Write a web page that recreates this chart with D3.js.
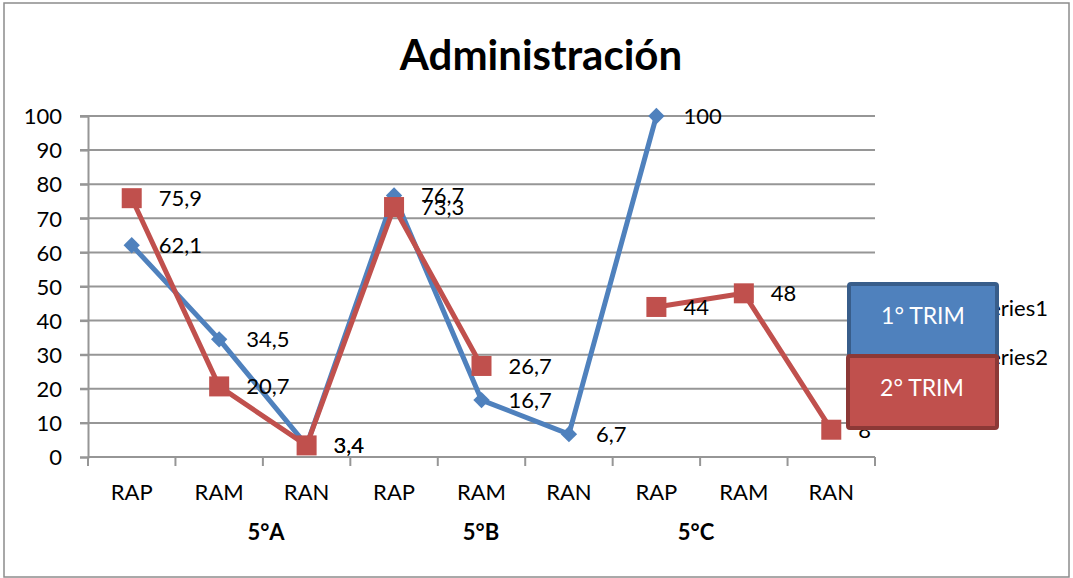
<!DOCTYPE html>
<html><head><meta charset="utf-8">
<script src="https://cdn.jsdelivr.net/npm/d3@7"></script>
<style>body{margin:0;background:#fff}svg{display:block;font-family:Lato,"Open Sans",sans-serif}</style>
</head><body><svg id="c" width="1073" height="578"></svg>
<script>
const categories = ["RAP","RAM","RAN","RAP","RAM","RAN","RAP","RAM","RAN"];
const groups = ["5°A","5°B","5°C"];
const series1 = [62.1,34.5,3.4,76.7,16.7,6.7,100,null,null];
const series2 = [75.9,20.7,3.4,73.3,26.7,null,44,48,8];
const labels1 = ["62,1","34,5","3,4","76,7","16,7","6,7","100",null,null];
const labels2 = ["75,9","20,7","3,4","73,3","26,7",null,"44","48","8"];
const yTicks = [0,10,20,30,40,50,60,70,80,90,100];
const title = "Administración";
const legendNames = ["Series1","Series2"];
const legendBoxes = ["1° TRIM","2° TRIM"];

const svg = d3.select("#c");
const blue="#4F81BD", red="#C0504D", grid="#969696";
svg.append("rect").attr("x",4).attr("y",3).attr("width",1065).attr("height",574).attr("fill","#fff").attr("stroke","#8c8c8c").attr("stroke-width",1.5);

const x0=88, x1=875;
const x = d3.scaleBand().domain(d3.range(categories.length)).range([x0,x1]);
const y = d3.scaleLinear().domain([0,100]).range([457,116]);
const cx = i => x(i)+x.bandwidth()/2;
const gx = d3.scalePoint().domain(groups).range([266,696]);

svg.append("text").attr("x",541).attr("y",70).attr("text-anchor","middle").attr("font-weight","bold").attr("font-size",42).text(title);

// gridlines
svg.append("g").selectAll("line").data(yTicks.filter(d=>d>0)).join("line")
 .attr("x1",80).attr("x2",x1).attr("y1",d=>y(d)).attr("y2",d=>y(d)).attr("stroke",grid).attr("stroke-width",2);
// y axis
const ya = svg.append("g").attr("transform",`translate(${x0},0)`).call(d3.axisLeft(y).tickValues(yTicks).tickSize(8).tickPadding(18));
ya.select(".domain").attr("stroke",grid).attr("stroke-width",2);
ya.selectAll(".tick line").attr("stroke",grid).attr("stroke-width",2);
ya.selectAll(".tick text").attr("font-size",22).attr("fill","#000").attr("font-family","Lato,'Open Sans',sans-serif").attr("dy","0.35em");
// x axis
const xa = svg.append("g").attr("transform","translate(0,457)");
xa.append("line").attr("x1",x0).attr("x2",x1).attr("y1",0).attr("y2",0).attr("stroke",grid).attr("stroke-width",2);
xa.selectAll("line.t").data(d3.range(categories.length+1)).join("line").attr("class","t")
 .attr("x1",i=>x0+i*x.bandwidth()).attr("x2",i=>x0+i*x.bandwidth()).attr("y1",0).attr("y2",9).attr("stroke",grid).attr("stroke-width",2);
xa.selectAll("text.c").data(categories).join("text").attr("class","c")
 .attr("x",(d,i)=>cx(i)).attr("y",43).attr("text-anchor","middle").attr("font-size",22).text(d=>d);
xa.selectAll("text.g").data(groups).join("text").attr("class","g")
 .attr("x",d=>gx(d)).attr("y",83).attr("text-anchor","middle").attr("font-size",22).attr("font-weight","bold").text(d=>d);

const line = d3.line().defined(d=>d!=null).x((d,i)=>cx(i)).y(d=>y(d));
function drawSeries(vals,color,shape,labels){
  svg.append("path").datum(vals).attr("d",line).attr("fill","none").attr("stroke",color).attr("stroke-width",5).attr("stroke-linejoin","round");
  const pts = vals.map((v,i)=>({v,i,l:labels[i]})).filter(d=>d.v!=null);
  const g = svg.append("g");
  if(shape==="diamond"){
    g.selectAll("path").data(pts).join("path").attr("d",d3.symbol(d3.symbolDiamond2,170)).attr("transform",d=>`translate(${cx(d.i)},${y(d.v)})`).attr("fill",color);
  } else {
    g.selectAll("rect").data(pts).join("rect").attr("x",d=>cx(d.i)-10).attr("y",d=>y(d.v)-10).attr("width",20).attr("height",20).attr("fill",color);
  }
  return pts;
}
const p1 = drawSeries(series1,blue,"diamond",labels1);
const p2 = drawSeries(series2,red,"square",labels2);
const lab = svg.append("g").attr("font-size",22);
[...p1,...p2].forEach(d=>{
  lab.append("text").attr("x",cx(d.i)+27).attr("y",y(d.v)+8).text(d.l);
});

// legend (old entries partially hidden)
svg.append("text").attr("x",1048).attr("y",316).attr("text-anchor","end").attr("font-size",22).text(legendNames[0]);
svg.append("text").attr("x",1048).attr("y",365).attr("text-anchor","end").attr("font-size",22).text(legendNames[1]);
svg.append("rect").attr("x",849).attr("y",284).attr("width",148).attr("height",72).attr("fill",blue).attr("stroke","#385D8A").attr("stroke-width",4).attr("rx",2);
svg.append("rect").attr("x",848).attr("y",356).attr("width",149).attr("height",72).attr("fill",red).attr("stroke","#8C3836").attr("stroke-width",4).attr("rx",2);
svg.append("text").attr("x",923).attr("y",324).attr("text-anchor","middle").attr("fill","#fff").attr("font-size",23).text(legendBoxes[0]);
svg.append("text").attr("x",922).attr("y",396).attr("text-anchor","middle").attr("fill","#fff").attr("font-size",23).text(legendBoxes[1]);
</script></body></html>
